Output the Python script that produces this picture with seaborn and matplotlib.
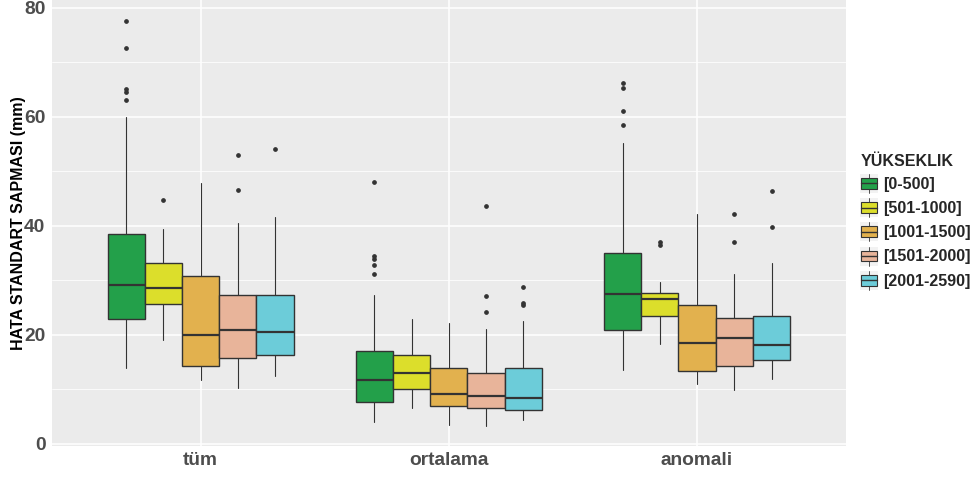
import matplotlib
matplotlib.use("Agg")
import matplotlib.pyplot as plt
import seaborn as sns
from matplotlib.legend_handler import HandlerBase
from matplotlib.patches import Rectangle, Patch
from matplotlib.lines import Line2D
from matplotlib.ticker import MultipleLocator

# categories
groups = ['tüm', 'ortalama', 'anomali']
levels = ['[0-500]', '[501-1000]', '[1001-1500]', '[1501-2000]', '[2001-2590]']
colors = ['#23A04A', '#DCDE2B', '#E2B14E', '#E8B49A', '#6CCCD9']

# box statistics, rows = groups, cols = levels
whis_lo = [[13.8, 19.0, 11.6, 10.1, 12.4],
           [4.0, 6.5, 3.4, 3.2, 4.4],
           [13.5, 18.2, 10.9, 9.8, 11.9]]
q1 = [[22.8, 25.6, 14.3, 15.7, 16.3],
      [7.7, 10.0, 6.9, 6.5, 6.2],
      [20.9, 23.4, 13.3, 14.3, 15.3]]
med = [[29.1, 28.5, 20.0, 20.8, 20.4],
       [11.6, 13.0, 9.0, 8.8, 8.3],
       [27.5, 26.5, 18.4, 19.3, 18.1]]
q3 = [[38.4, 33.1, 30.7, 27.2, 27.3],
      [16.9, 16.3, 13.9, 12.9, 13.8],
      [34.9, 27.7, 25.4, 23.0, 23.4]]
whis_hi = [[59.9, 39.3, 47.9, 40.5, 41.6],
           [27.2, 22.8, 22.2, 21.0, 22.4],
           [55.2, 29.6, 42.1, 31.1, 33.2]]
outliers = [
    [[77.6, 72.5, 65.0, 64.5, 63.1], [44.7], [], [53.0, 46.6], [54.0]],
    [[48.0, 34.4, 33.9, 32.7, 31.1], [], [], [43.5, 27.1, 24.2], [28.8, 25.7, 25.4]],
    [[66.2, 65.3, 61.1, 58.5], [37.0, 36.4], [], [42.2, 37.0], [46.4, 39.7]],
]

sns.set_theme(style="darkgrid", rc={
    "axes.facecolor": "#EBEBEB",
    "grid.color": "white",
})
plt.rcParams['font.family'] = ['Liberation Sans', 'DejaVu Sans']

edge = '#333333'
fig = plt.figure(figsize=(9.78, 4.8), dpi=100)
ax = fig.add_axes([0.0529, 0.0715, 0.865 - 0.0529, 1 - 0.0715])

dodge = 0.75
w = dodge / len(levels)
for gi in range(len(groups)):
    for li in range(len(levels)):
        pos = gi + 1 - dodge / 2 + w * (li + 0.5)
        st = dict(whislo=whis_lo[gi][li], q1=q1[gi][li], med=med[gi][li],
                  q3=q3[gi][li], whishi=whis_hi[gi][li], fliers=outliers[gi][li])
        ax.bxp([st], positions=[pos], widths=w, patch_artist=True,
               showcaps=False, manage_ticks=False,
               boxprops=dict(facecolor=colors[li], edgecolor=edge, linewidth=1.0),
               medianprops=dict(color=edge, linewidth=1.6),
               whiskerprops=dict(color=edge, linewidth=0.8),
               flierprops=dict(marker='o', markersize=2.4, markerfacecolor=edge,
                               markeredgecolor=edge))

ax.set_xlim(0.4, 3.6)
ax.set_ylim(-0.4, 81.4)
ax.set_xticks([1, 2, 3])
ax.set_xticklabels(groups)
ax.yaxis.set_major_locator(MultipleLocator(20))
ax.yaxis.set_minor_locator(MultipleLocator(10))
ax.grid(which='major', color='white', linewidth=1.1)
ax.grid(which='minor', axis='y', color='white', linewidth=0.55)
for s in ax.spines.values():
    s.set_visible(False)
ax.tick_params(axis='both', which='major', length=2.5, width=0.8, color=edge,
               labelsize=13.8, labelcolor='#4D4D4D', pad=2)
ax.tick_params(which='minor', length=0)
for lab in ax.get_xticklabels() + ax.get_yticklabels():
    lab.set_fontweight('bold')
ax.set_ylabel('HATA STANDART SAPMASI (mm)', fontsize=11.5, fontweight='bold',
              color='black', labelpad=-1.5)
ax.set_xlabel('')


class BoxKey(HandlerBase):
    def create_artists(self, legend, orig_handle, xdescent, ydescent,
                       width, height, fontsize, trans):
        x0, y0 = -xdescent, -ydescent
        bg = Rectangle((x0, y0), width, height, facecolor='#F2F2F2',
                       edgecolor='none', transform=trans)
        box = Rectangle((x0 + 0.05 * width, y0 + 0.22 * height), 0.9 * width,
                        0.56 * height, facecolor=orig_handle.get_facecolor(),
                        edgecolor=edge, linewidth=0.8, transform=trans)
        xc = x0 + width / 2
        mid = Line2D([x0 + 0.05 * width, x0 + 0.95 * width],
                     [y0 + height / 2] * 2, color=edge, linewidth=1.0, transform=trans)
        top = Line2D([xc, xc], [y0 + 0.78 * height, y0 + height], color=edge,
                     linewidth=0.6, transform=trans)
        bot = Line2D([xc, xc], [y0, y0 + 0.22 * height], color=edge,
                     linewidth=0.6, transform=trans)
        return [bg, box, mid, top, bot]


handles = [Patch(facecolor=c) for c in colors]
leg = fig.legend(handles, levels, title='YÜKSEKLIK', loc='upper left',
                 bbox_to_anchor=(0.865, 0.71), frameon=False,
                 handler_map={Patch: BoxKey()}, handlelength=1.1,
                 handleheight=1.45, handletextpad=0.3, labelspacing=0.33,
                 prop={'weight': 'bold', 'size': 11.5})
leg.get_title().set_fontweight('bold')
leg.get_title().set_fontsize(11.5)
leg._legend_box.align = 'left'

fig.savefig('out.png', dpi=100)
